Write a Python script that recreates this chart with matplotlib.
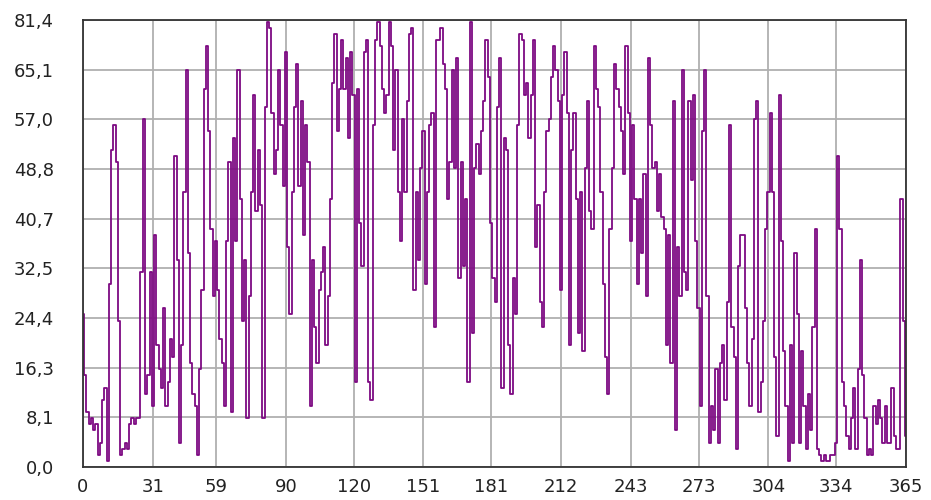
import numpy as np
import matplotlib
matplotlib.use('Agg')
import matplotlib.pyplot as plt

# daily values, day 0..365
values = [25, 15, 9, 7, 8, 6, 7, 2, 4, 11,
          13, 1, 30, 52, 56, 50, 24, 2, 3, 4,
          3, 7, 8, 7, 8, 8, 32, 57, 12, 15,
          32, 10, 38, 20, 16, 13, 26, 10, 14, 21,
          18, 51, 34, 4, 20, 45, 65, 35, 17, 12,
          10, 2, 16, 29, 62, 69, 55, 39, 28, 37,
          29, 21, 17, 10, 37, 50, 9, 54, 37, 65,
          44, 24, 34, 8, 28, 45, 61, 42, 52, 43,
          8, 59, 73, 72, 58, 48, 52, 65, 56, 46,
          68, 36, 25, 45, 59, 66, 46, 60, 38, 56,
          50, 10, 34, 23, 17, 29, 32, 36, 20, 28,
          44, 63, 71, 55, 62, 70, 62, 67, 54, 68,
          61, 14, 62, 40, 33, 68, 70, 14, 11, 56,
          70, 73, 69, 62, 58, 61, 73, 69, 52, 65,
          45, 37, 57, 45, 60, 71, 72, 29, 45, 34,
          49, 55, 30, 45, 56, 58, 23, 70, 70, 72,
          66, 62, 44, 50, 65, 49, 67, 31, 50, 33,
          44, 14, 73, 22, 49, 53, 48, 55, 60, 70,
          64, 40, 31, 27, 59, 67, 13, 54, 52, 20,
          12, 31, 25, 56, 71, 70, 61, 63, 54, 61,
          70, 36, 43, 27, 23, 45, 55, 57, 64, 69,
          65, 60, 29, 61, 68, 58, 20, 52, 58, 44,
          22, 45, 19, 49, 60, 42, 39, 69, 62, 59,
          45, 30, 18, 12, 39, 49, 66, 62, 59, 55,
          48, 69, 58, 37, 56, 44, 30, 44, 35, 48,
          28, 67, 56, 49, 50, 42, 48, 41, 39, 20,
          38, 17, 60, 6, 36, 28, 65, 32, 29, 60,
          47, 61, 37, 26, 10, 55, 65, 28, 4, 10,
          6, 16, 4, 17, 20, 11, 27, 56, 23, 18,
          3, 33, 38, 38, 26, 17, 10, 21, 57, 60,
          9, 14, 24, 39, 45, 58, 45, 18, 5, 61,
          37, 19, 10, 1, 20, 4, 35, 25, 4, 19,
          10, 3, 12, 6, 23, 39, 3, 2, 1, 2,
          1, 1, 2, 2, 4, 51, 39, 14, 10, 5,
          3, 8, 13, 3, 16, 34, 15, 8, 2, 3,
          2, 10, 7, 11, 8, 4, 10, 4, 4, 13,
          5, 3, 3, 44, 24, 5]
days = np.arange(len(values))

x_ticks = [0, 31, 59, 90, 120, 151, 181, 212, 243, 273, 304, 334, 365]
y_step = 8.14
y_labels = ['0,0', '8,1', '16,3', '24,4', '32,5', '40,7', '48,8', '57,0', '65,1', '81,4']

fig = plt.figure(figsize=(9.31, 5.0), dpi=100)
ax = fig.add_axes([83/931, 33/500, 823/931, 447/500])

ax.plot(days, values, color='#7d0a82', lw=1.3, drawstyle='steps-mid')

y_ticks = np.arange(len(y_labels)) * y_step
ax.set_xlim(0, 365)
ax.set_ylim(0, y_ticks[-1])
ax.set_xticks(x_ticks)
ax.set_xticklabels([str(t) for t in x_ticks])
ax.set_yticks(y_ticks)
ax.set_yticklabels(y_labels)
ax.grid(True, color='#b0b0b0', lw=1.3)
ax.set_axisbelow(True)
ax.tick_params(length=0, labelsize=13, colors='#222222')
ax.tick_params(axis='y', pad=21)
ax.tick_params(axis='x', pad=8)
for s in ax.spines.values():
    s.set_color('#333333')
    s.set_linewidth(1.3)

fig.savefig('out.png', dpi=100)
